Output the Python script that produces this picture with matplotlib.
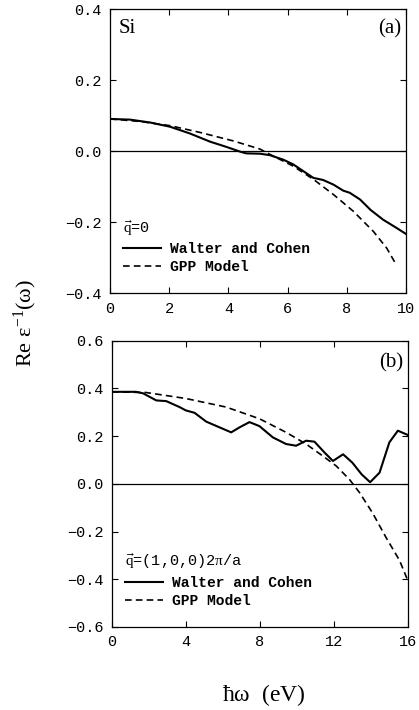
import numpy as np
import matplotlib
matplotlib.use("Agg")
import matplotlib.pyplot as plt

# upright serif maths for the axis labels
plt.rcParams["mathtext.fontset"] = "custom"
plt.rcParams["mathtext.rm"] = "Liberation Serif"
plt.rcParams["mathtext.it"] = "Liberation Serif"
plt.rcParams["mathtext.fallback"] = "stix"

# panel (a): q = 0
wa_x = [0, 0.68, 1.35, 2.03, 2.7, 3.38, 3.94, 4.39, 4.6, 5.07, 5.4, 5.86, 6.19,
        6.53, 6.87, 7.2, 7.55, 7.88, 8.1, 8.45, 8.8, 9.23, 9.68, 10.0]
wa_y = [0.091, 0.089, 0.081, 0.069, 0.050, 0.027, 0.012, -0.001, -0.006, -0.007,
        -0.011, -0.024, -0.037, -0.056, -0.075, -0.081, -0.094, -0.111, -0.117,
        -0.136, -0.165, -0.193, -0.216, -0.233]
ga_x = [0, 1.0, 2.03, 3.04, 4.17, 5.07, 5.5, 6.19, 6.87, 7.55, 8.22, 8.9, 9.35, 9.68]
ga_y = [0.091, 0.084, 0.072, 0.053, 0.029, 0.006, -0.013, -0.042, -0.079, -0.122,
        -0.169, -0.226, -0.273, -0.321]

# panel (b): q = (1,0,0) 2pi/a
wb_x = [0, 1.3, 1.68, 2.4, 2.94, 3.66, 4.0, 4.47, 5.1, 5.82, 6.45, 6.9, 7.44, 7.98,
        8.7, 9.42, 9.96, 10.5, 10.95, 11.5, 11.95, 12.5, 13.0, 13.5, 13.96, 14.47,
        15.0, 15.46, 16.0]
wb_y = [0.386, 0.386, 0.380, 0.350, 0.347, 0.322, 0.308, 0.298, 0.261, 0.237,
        0.216, 0.237, 0.259, 0.242, 0.195, 0.167, 0.160, 0.181, 0.177, 0.131,
        0.096, 0.124, 0.089, 0.040, 0.007, 0.047, 0.174, 0.223, 0.205]
gb_x = [0, 1.86, 4.0, 6.18, 7.98, 9.42, 10.5, 11.4, 12.13, 12.85, 13.4, 14.1,
        14.8, 15.55, 16.0]
gb_y = [0.386, 0.383, 0.358, 0.322, 0.273, 0.216, 0.167, 0.117, 0.075, 0.018,
        -0.038, -0.123, -0.222, -0.321, -0.406]

tick_font = dict(family="Liberation Mono", size=11)
leg_font = dict(family="Liberation Mono", size=10.5, weight="bold")
serif = "Liberation Serif"

fig = plt.figure(figsize=(4.19, 7.10), dpi=100)
ax1 = fig.add_axes([0.2625, 0.587, 0.7064, 0.400])
ax2 = fig.add_axes([0.267, 0.117, 0.7064, 0.403])


def style(ax, xlim, ylim, xt, yt):
    ax.set_xlim(*xlim)
    ax.set_ylim(*ylim)
    ax.set_xticks(xt)
    ax.set_yticks(yt)
    ax.set_xticklabels([f"{v:g}" for v in xt], fontdict=tick_font)
    ax.set_yticklabels([f"{v:.1f}".replace("-", "\u2212") for v in yt], fontdict=tick_font)
    ax.tick_params(direction="in", top=True, right=True, length=4, width=0.8, pad=6)
    for s in ax.spines.values():
        s.set_linewidth(0.9)
    ax.axhline(0, color="black", lw=0.9)


ax1.plot(wa_x, wa_y, color="black", lw=1.5, label="Walter and Cohen")
ax1.plot(ga_x, ga_y, color="black", lw=1.2, ls=(0, (4, 2.5)), label="GPP Model")
style(ax1, (0, 10), (-0.4, 0.4), [0, 2, 4, 6, 8, 10], [-0.4, -0.2, 0.0, 0.2, 0.4])
ax1.text(0.03, 0.965, "Si", transform=ax1.transAxes, ha="left", va="top",
         family=serif, fontsize=15)
ax1.text(0.985, 0.965, "(a)", transform=ax1.transAxes, ha="right", va="top",
         family=serif, fontsize=15)
leg1 = ax1.legend(loc="lower left", bbox_to_anchor=(0.0, 0.02), frameon=False,
                  prop=leg_font, handlelength=2.6, handletextpad=0.6,
                  labelspacing=0.3, title=r"$\vec{\mathrm{q}}$=0",
                  alignment="left")
leg1.get_title().set_fontfamily("Liberation Mono")
leg1.get_title().set_fontsize(11)

ax2.plot(wb_x, wb_y, color="black", lw=1.5, label="Walter and Cohen")
ax2.plot(gb_x, gb_y, color="black", lw=1.2, ls=(0, (4, 2.5)), label="GPP Model")
style(ax2, (0, 16), (-0.6, 0.6), [0, 4, 8, 12, 16],
      [-0.6, -0.4, -0.2, 0.0, 0.2, 0.4, 0.6])
ax2.text(0.985, 0.955, "(b)", transform=ax2.transAxes, ha="right", va="top",
         family=serif, fontsize=15)
leg2 = ax2.legend(loc="lower left", bbox_to_anchor=(0.0, 0.02), frameon=False,
                  prop=leg_font, handlelength=2.6, handletextpad=0.6,
                  labelspacing=0.3, title=r"$\vec{\mathrm{q}}$=(1,0,0)2$\pi$/a",
                  alignment="left")
leg2.get_title().set_fontfamily("Liberation Mono")
leg2.get_title().set_fontsize(11)

fig.text(0.06, 0.545, r"Re $\epsilon^{-1}(\omega)$", rotation=90, ha="center",
         va="center", family=serif, fontsize=16)
fig.text(0.63, 0.021, r"$\hbar\omega$  (eV)", ha="center", va="center",
         family=serif, fontsize=17)

fig.savefig("out.png", dpi=100)
